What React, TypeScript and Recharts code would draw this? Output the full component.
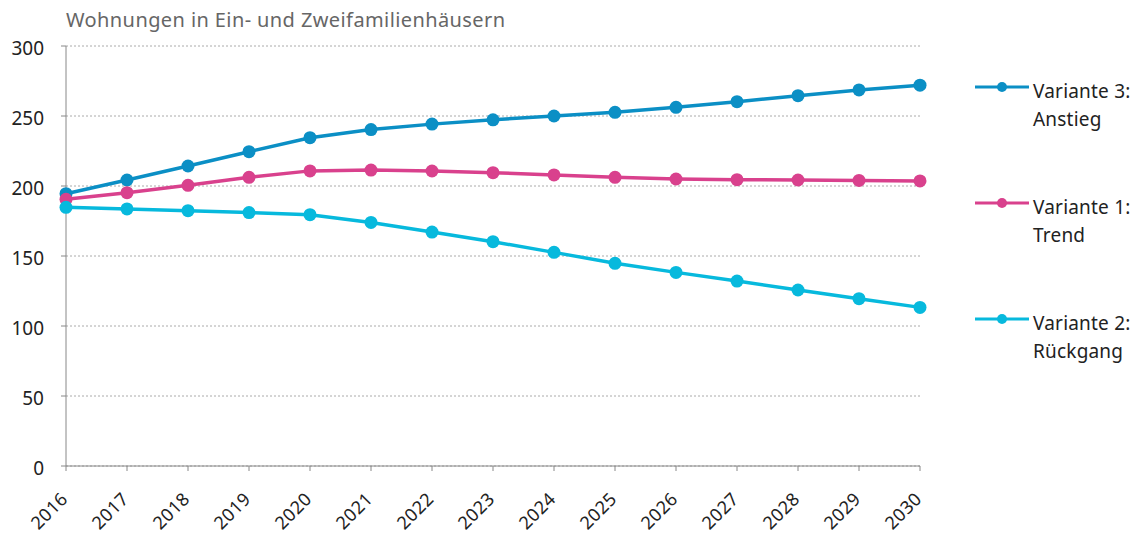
import { LineChart, Line, XAxis, YAxis, CartesianGrid } from 'recharts'

const years = ['2016', '2017', '2018', '2019', '2020', '2021', '2022', '2023', '2024', '2025', '2026', '2027', '2028', '2029', '2030']
const anstieg = [194.5, 204.3, 214.3, 224.5, 234.5, 240.3, 244.2, 247.3, 250, 252.6, 256.2, 260.2, 264.5, 268.6, 272]
const trend = [190.5, 195.2, 200.5, 206.2, 210.8, 211.4, 210.7, 209.5, 207.9, 206.2, 205, 204.5, 204.3, 204, 203.6]
const rueckgang = [184.8, 183.6, 182.4, 181, 179.5, 174, 167.1, 160.2, 152.6, 144.8, 138.3, 132.1, 125.7, 119.5, 113.3]
const yTicks = [0, 50, 100, 150, 200, 250, 300]

const series = [
  { key: 'anstieg', values: anstieg, color: '#0b8fc5', label: ['Variante 3:', 'Anstieg'] },
  { key: 'trend', values: trend, color: '#d9418d', label: ['Variante 1:', 'Trend'] },
  { key: 'rueckgang', values: rueckgang, color: '#07b9dd', label: ['Variante 2:', 'Rückgang'] },
]

const data = years.map((year, i) => ({
  year,
  anstieg: anstieg[i],
  trend: trend[i],
  rueckgang: rueckgang[i],
}))

const FONT = '"Noto Sans", sans-serif'

function YearTick({ x, y, payload }: any) {
  const ax = x + 3
  const ay = y + 27
  return (
    <text
      x={ax}
      y={ay}
      textAnchor="end"
      fontSize={18}
      fill="#222"
      fontFamily={FONT}
      letterSpacing={0.5}
      transform={`rotate(-45 ${ax} ${ay})`}
    >
      {payload.value}
    </text>
  )
}

// legend sits to the right of the plot, outside recharts layout
function LegendBox() {
  return (
    <div style={{ position: 'absolute', left: 966, top: 72, width: 166, fontFamily: FONT }}>
      {series.map((s) => (
        <div key={s.key} style={{ position: 'relative', height: 116 }}>
          <svg width={56} height={14} style={{ position: 'absolute', left: 0, top: 0 }}>
            <line x1={1} y1={7} x2={55} y2={7} stroke={s.color} strokeWidth={3} />
            <circle cx={28} cy={7} r={5} fill={s.color} />
          </svg>
          <div
            style={{
              position: 'absolute',
              left: 59,
              top: -3,
              fontSize: 19,
              letterSpacing: 0.2,
              lineHeight: '28px',
              color: '#222',
              whiteSpace: 'nowrap',
            }}
          >
            {s.label[0]}
            <br />
            {s.label[1]}
          </div>
        </div>
      ))}
    </div>
  )
}

export default function App() {
  return (
    <div style={{ position: 'relative', width: 1133, height: 534, fontFamily: FONT }}>
      <div
        style={{
          position: 'absolute',
          left: 58,
          top: 2,
          fontSize: 20,
          letterSpacing: 0.4,
          lineHeight: '20px',
          color: '#666',
          whiteSpace: 'nowrap',
        }}
      >
        Wohnungen in Ein- und Zweifamilienhäusern
      </div>
      <LineChart
        width={1133}
        height={534}
        data={data}
        margin={{ top: 38, right: 221, left: 8, bottom: 0 }}
      >
        <CartesianGrid vertical={false} stroke="#aaa" strokeDasharray="2 2" />
        <XAxis
          dataKey="year"
          height={76}
          interval={0}
          tick={<YearTick />}
          tickSize={5}
          tickLine={{ stroke: '#888' }}
          axisLine={{ stroke: '#888' }}
        />
        <YAxis
          domain={[0, 300]}
          ticks={yTicks}
          width={50}
          tickSize={5}
          tickMargin={17}
          tickLine={{ stroke: '#888' }}
          axisLine={{ stroke: '#888' }}
          tick={{ fontSize: 19, fill: '#222', fontFamily: FONT, dy: 2 }}
        />
        {series.map((s) => (
          <Line
            key={s.key}
            dataKey={s.key}
            stroke={s.color}
            strokeWidth={3.5}
            dot={{ r: 6.5, fill: s.color, stroke: s.color, strokeWidth: 0 }}
            activeDot={false}
            isAnimationActive={false}
          />
        ))}
      </LineChart>
      <LegendBox />
    </div>
  )
}
